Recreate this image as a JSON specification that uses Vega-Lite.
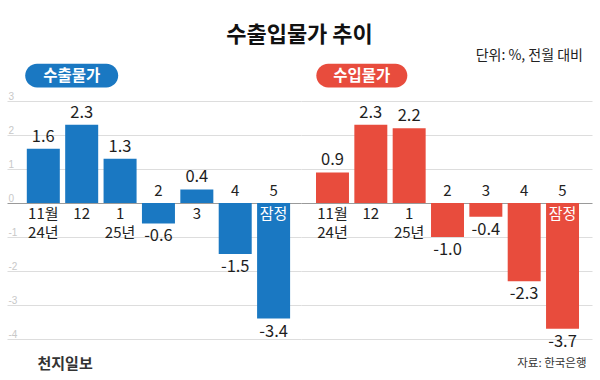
{
  "$schema": "https://vega.github.io/schema/vega-lite/v6.json",
  "padding": {"left": 7, "right": 8, "top": 24, "bottom": 0},
  "background": "white",
  "title": {"text": "수출입물가 추이", "font": "Noto Sans CJK KR", "fontSize": 22, "fontWeight": "bold", "color": "#111111", "anchor": "middle", "offset": 2},
  "datasets": {
    "export": [
      {"month": "11월", "label": "11월\n24년", "value": 1.6, "note": ""},
      {"month": "12", "label": "12", "value": 2.3, "note": ""},
      {"month": "1", "label": "1\n25년", "value": 1.3, "note": ""},
      {"month": "2", "label": "2", "value": -0.6, "note": ""},
      {"month": "3", "label": "3", "value": 0.4, "note": ""},
      {"month": "4", "label": "4", "value": -1.5, "note": ""},
      {"month": "5", "label": "5", "value": -3.4, "note": "잠정"}
    ],
    "import": [
      {"month": "11월", "label": "11월\n24년", "value": 0.9, "note": ""},
      {"month": "12", "label": "12", "value": 2.3, "note": ""},
      {"month": "1", "label": "1\n25년", "value": 2.2, "note": ""},
      {"month": "2", "label": "2", "value": -1.0, "note": ""},
      {"month": "3", "label": "3", "value": -0.4, "note": ""},
      {"month": "4", "label": "4", "value": -2.3, "note": ""},
      {"month": "5", "label": "5", "value": -3.7, "note": "잠정"}
    ]
  },
  "spacing": 0,
  "hconcat": [
    {
      "width": 294,
      "height": 276,
      "title": {"text": " ", "font": "Noto Sans CJK KR", "fontSize": 14, "anchor": "end", "offset": 0},
      "data": {"name": "export"},
      "encoding": {
        "x": {"field": "month", "type": "nominal",
          "scale": {"domain": ["11월", "12", "1", "2", "3", "4", "5"], "paddingInner": 0.14, "paddingOuter": 0.4, "align": 0.645},
          "axis": {"title": "천지일보", "labels": false, "ticks": false, "domain": false, "titleAnchor": "start", "titleAlign": "left", "titleX": 30, "titleFont": "Noto Sans CJK KR", "titleFontSize": 15, "titleFontWeight": "bold", "titleColor": "#333333", "titlePadding": 17}},
        "y": {"field": "value", "type": "quantitative",
          "scale": {"domain": [-4, 4.12], "nice": false, "zero": false},
          "axis": {"title": null, "values": [-4, -3, -2, -1, 0, 1, 2, 3], "domain": false, "ticks": false, "labelAlign": "left", "labelBaseline": "alphabetic", "labelPadding": -1, "labelOffset": -2, "labelColor": "#c8c8c8", "labelFontSize": 10, "labelFont": "Liberation Sans", "gridColor": {"condition": {"test": "datum.value === 0", "value": "#9a9a9a"}, "value": "#dddddd"}}}
      },
      "layer": [
        {"mark": {"type": "bar", "color": "#1a78c2"}},
        {"transform": [{"filter": "datum.value >= 0"}],
         "mark": {"type": "text", "baseline": "bottom", "dy": -4, "fontSize": 16.5, "font": "'Liberation Sans Narrow', 'Noto Sans CJK KR', sans-serif", "color": "#1e1e1e"},
         "encoding": {"text": {"field": "value", "type": "quantitative", "format": ".1f"}}},
        {"transform": [{"filter": "datum.value < 0"}],
         "mark": {"type": "text", "baseline": "top", "dy": 5, "fontSize": 16.5, "font": "'Liberation Sans Narrow', 'Noto Sans CJK KR', sans-serif", "color": "#1e1e1e"},
         "encoding": {"text": {"field": "value", "type": "quantitative", "format": ".1f"}}},
        {"transform": [{"filter": "datum.value >= 0"}],
         "mark": {"type": "text", "baseline": "top", "dy": 4, "lineBreak": "\n", "lineHeight": 19, "fontSize": 15, "font": "'Liberation Sans Narrow', 'Noto Sans CJK KR', sans-serif", "color": "#222222"},
         "encoding": {"y": {"datum": 0, "type": "quantitative"}, "text": {"field": "label"}}},
        {"transform": [{"filter": "datum.value < 0"}],
         "mark": {"type": "text", "baseline": "bottom", "dy": -4, "fontSize": 15, "font": "'Liberation Sans Narrow', 'Noto Sans CJK KR', sans-serif", "color": "#222222"},
         "encoding": {"y": {"datum": 0, "type": "quantitative"}, "text": {"field": "label"}}},
        {"transform": [{"filter": "datum.note !== ''"}],
         "mark": {"type": "text", "baseline": "top", "dy": 4, "fontSize": 15, "font": "'Noto Sans CJK KR', sans-serif", "color": "#ffffff"},
         "encoding": {"y": {"datum": 0, "type": "quantitative"}, "text": {"field": "note"}}},
        {"transform": [{"filter": "datum.month === '12'"}],
         "mark": {"type": "bar", "color": "#1a78c2", "width": 93, "cornerRadius": 12, "xOffset": -10},
         "encoding": {"y": {"datum": 3.40, "type": "quantitative"}, "y2": {"datum": 4.10}}},
        {"transform": [{"filter": "datum.month === '12'"}],
         "mark": {"type": "text", "text": "수출물가", "baseline": "middle", "align": "center", "dx": -10, "fontSize": 15.5, "fontWeight": "bold", "font": "'Noto Sans CJK KR', sans-serif", "color": "#ffffff"},
         "encoding": {"y": {"datum": 3.75, "type": "quantitative"}}}
      ]
    },
    {
      "width": 291,
      "height": 276,
      "title": {"text": "단위: %, 전월 대비", "font": "Noto Sans CJK KR", "fontSize": 14, "fontWeight": "normal", "color": "#222222", "anchor": "end", "offset": 0, "dx": -9},
      "data": {"name": "import"},
      "encoding": {
        "x": {"field": "month", "type": "nominal",
          "scale": {"domain": ["11월", "12", "1", "2", "3", "4", "5"], "paddingInner": 0.14, "paddingOuter": 0.365, "align": 0.536},
          "axis": {"title": "자료: 한국은행", "labels": false, "ticks": false, "domain": false, "titleAnchor": "end", "titleAlign": "right", "titleX": 285, "titleFont": "Noto Sans CJK KR", "titleFontSize": 11.5, "titleFontWeight": "normal", "titleColor": "#333333", "titlePadding": 18}},
        "y": {"field": "value", "type": "quantitative",
          "scale": {"domain": [-4, 4.12], "nice": false, "zero": false},
          "axis": {"title": null, "values": [-4, -3, -2, -1, 0, 1, 2, 3], "domain": false, "ticks": false, "labels": false, "gridColor": {"condition": {"test": "datum.value === 0", "value": "#9a9a9a"}, "value": "#dddddd"}}}
      },
      "layer": [
        {"mark": {"type": "bar", "color": "#e84c3d"}},
        {"transform": [{"filter": "datum.value >= 0"}],
         "mark": {"type": "text", "baseline": "bottom", "dy": -4, "fontSize": 16.5, "font": "'Liberation Sans Narrow', 'Noto Sans CJK KR', sans-serif", "color": "#1e1e1e"},
         "encoding": {"text": {"field": "value", "type": "quantitative", "format": ".1f"}}},
        {"transform": [{"filter": "datum.value < 0"}],
         "mark": {"type": "text", "baseline": "top", "dy": 5, "fontSize": 16.5, "font": "'Liberation Sans Narrow', 'Noto Sans CJK KR', sans-serif", "color": "#1e1e1e"},
         "encoding": {"text": {"field": "value", "type": "quantitative", "format": ".1f"}}},
        {"transform": [{"filter": "datum.value >= 0"}],
         "mark": {"type": "text", "baseline": "top", "dy": 4, "lineBreak": "\n", "lineHeight": 19, "fontSize": 15, "font": "'Liberation Sans Narrow', 'Noto Sans CJK KR', sans-serif", "color": "#222222"},
         "encoding": {"y": {"datum": 0, "type": "quantitative"}, "text": {"field": "label"}}},
        {"transform": [{"filter": "datum.value < 0"}],
         "mark": {"type": "text", "baseline": "bottom", "dy": -4, "fontSize": 15, "font": "'Liberation Sans Narrow', 'Noto Sans CJK KR', sans-serif", "color": "#222222"},
         "encoding": {"y": {"datum": 0, "type": "quantitative"}, "text": {"field": "label"}}},
        {"transform": [{"filter": "datum.note !== ''"}],
         "mark": {"type": "text", "baseline": "top", "dy": 4, "fontSize": 15, "font": "'Noto Sans CJK KR', sans-serif", "color": "#ffffff"},
         "encoding": {"y": {"datum": 0, "type": "quantitative"}, "text": {"field": "note"}}},
        {"transform": [{"filter": "datum.month === '12'"}],
         "mark": {"type": "bar", "color": "#e84c3d", "width": 91, "cornerRadius": 12, "xOffset": -9},
         "encoding": {"y": {"datum": 3.40, "type": "quantitative"}, "y2": {"datum": 4.10}}},
        {"transform": [{"filter": "datum.month === '12'"}],
         "mark": {"type": "text", "text": "수입물가", "baseline": "middle", "align": "center", "dx": -9, "fontSize": 15.5, "fontWeight": "bold", "font": "'Noto Sans CJK KR', sans-serif", "color": "#ffffff"},
         "encoding": {"y": {"datum": 3.75, "type": "quantitative"}}}
      ]
    }
  ],
  "config": {
    "view": {"stroke": null},
    "locale": {"number": {"decimal": ".", "thousands": ",", "grouping": [3], "currency": ["", ""], "minus": "-"}}
  }
}
